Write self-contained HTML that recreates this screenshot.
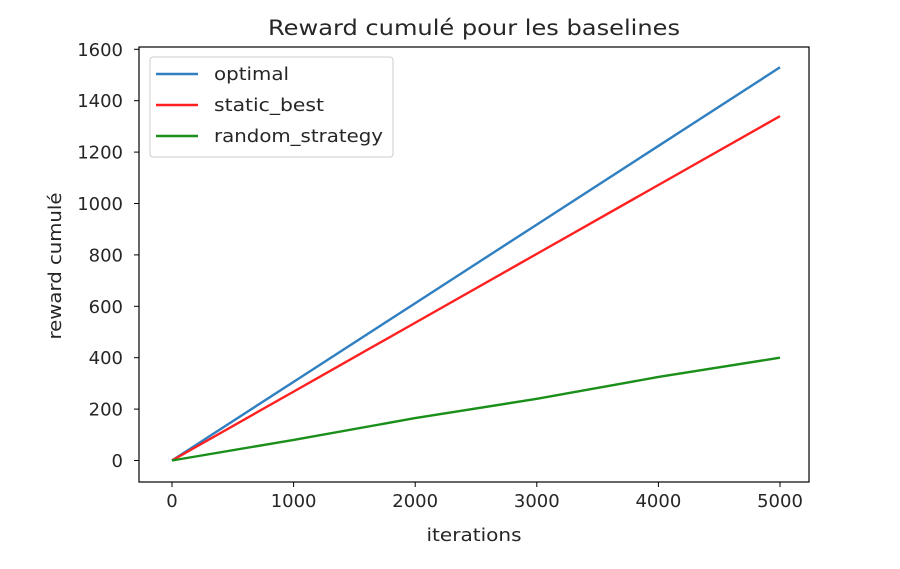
<!DOCTYPE html>
<html><head><meta charset="utf-8"><style>
body{margin:0;background:#fff;}
text{font-family:"DejaVu Sans","Liberation Sans",sans-serif;fill:#262626;}
</style></head><body>
<svg id="chart" width="900" height="564">
<text x="474" y="35" text-anchor="middle" font-size="21" textLength="412" lengthAdjust="spacingAndGlyphs">Reward cumulé pour les baselines</text>
<g id="plot"></g>
<rect x="139" y="47" width="670" height="435" fill="none" stroke="#000" stroke-width="1.2"/>
<text x="474" y="541" text-anchor="middle" font-size="18" textLength="95" lengthAdjust="spacingAndGlyphs">iterations</text>
<text transform="translate(61,266) rotate(-90)" text-anchor="middle" font-size="18" textLength="147" lengthAdjust="spacingAndGlyphs">reward cumulé</text>
<g>
<rect x="150" y="57" width="243" height="100" rx="3" fill="#fff" fill-opacity="0.8" stroke="#ccc"/>
<line x1="156" y1="74" x2="198" y2="74" stroke="#2f7fc1" stroke-width="2.4"/>
<text x="214" y="80" font-size="18" textLength="75" lengthAdjust="spacingAndGlyphs">optimal</text>
<line x1="156" y1="105" x2="198" y2="105" stroke="#ff2020" stroke-width="2.4"/>
<text x="214" y="111" font-size="18" textLength="110" lengthAdjust="spacingAndGlyphs">static_best</text>
<line x1="156" y1="136" x2="198" y2="136" stroke="#1a8f1a" stroke-width="2.4"/>
<text x="214" y="142" font-size="18" textLength="169" lengthAdjust="spacingAndGlyphs">random_strategy</text>
</g>
</svg>
<script>
const iterations=[0,1000,2000,3000,4000,5000];
const optimal=[0,306,612,918,1224,1530];
const staticBest=[0,268,536,804,1072,1340];
const randomStrategy=[0,80,165,240,325,400];
const xTicks=[0,1000,2000,3000,4000,5000];
const yTicks=[0,200,400,600,800,1000,1200,1400,1600];
const NS='http://www.w3.org/2000/svg';
const sx=v=>172+v*(780-172)/5000;
const sy=v=>460.5-v*(460.5-49.3)/1600;
const g=document.getElementById('plot');
function mk(t,a){const e=document.createElementNS(NS,t);for(const k in a)e.setAttribute(k,a[k]);g.appendChild(e);return e;}
xTicks.forEach(t=>{
 const l=mk('line',{x1:sx(t),x2:sx(t),y1:482,y2:487,stroke:'#000'});
 
 
 const tx=mk('text',{x:sx(t),y:507,'text-anchor':'middle','font-size':18});tx.textContent=t;
 
 
});
yTicks.forEach(t=>{
 const l=mk('line',{x1:134,x2:139,y1:sy(t),y2:sy(t),stroke:'#000'});
 
 
 const tx=mk('text',{x:123,y:sy(t)+6.5,'text-anchor':'end','font-size':18});tx.textContent=t;
 
 
});
[[optimal,'#2f7fc1','optimal-line'],[staticBest,'#ff2020','static-best-line'],[randomStrategy,'#1a8f1a','random-strategy-line']].forEach(([d,c,n])=>{
 const p=mk('polyline',{points:iterations.map((x,i)=>sx(x)+','+sy(d[i])).join(' '),fill:'none',stroke:c,'stroke-width':2.4});
 
 
});
</script>
</body></html>
